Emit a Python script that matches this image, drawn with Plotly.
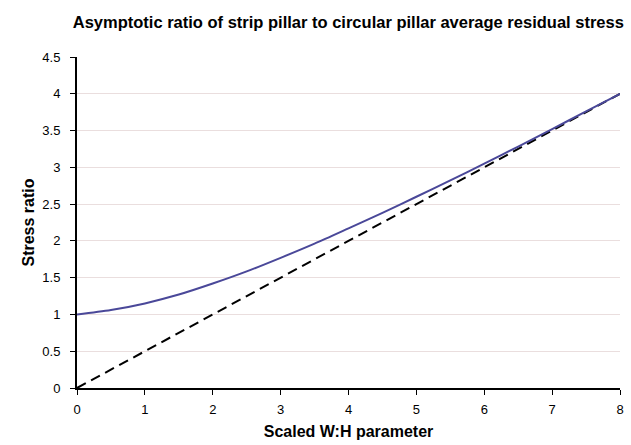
import plotly.graph_objects as go

x_vals = [0, 0.5, 1, 1.5, 2, 2.5, 3, 3.5, 4, 4.5, 5, 5.5, 6, 6.5, 7, 7.5, 8]
ratio_vals = [1.0, 1.06, 1.15, 1.27, 1.42, 1.585, 1.77, 1.963, 2.17, 2.38, 2.60, 2.822, 3.05, 3.283, 3.52, 3.76, 4.0]
asym_x = [0, 8]
asym_y = [0, 4]
x_ticks = [0, 1, 2, 3, 4, 5, 6, 7, 8]
y_ticks = [0, 0.5, 1, 1.5, 2, 2.5, 3, 3.5, 4, 4.5]
y_tick_text = ["0", "0.5", "1", "1.5", "2", "2.5", "3", "3.5", "4", "4.5"]

fig = go.Figure()
fig.add_trace(go.Scatter(x=asym_x, y=asym_y, mode="lines",
                         line=dict(color="black", width=2, dash="10px,6px"),
                         showlegend=False, hoverinfo="skip"))
fig.add_trace(go.Scatter(x=x_vals, y=ratio_vals, mode="lines",
                         line=dict(color="#4a4899", width=2, shape="spline", smoothing=0.8),
                         showlegend=False))

font = "Liberation Sans, Arial, sans-serif"
fig.update_layout(
    width=631, height=445,
    margin=dict(l=77, r=7, t=57, b=57),
    paper_bgcolor="white", plot_bgcolor="white",
    font=dict(family=font, size=13, color="black"),
    title=dict(text="<b>Asymptotic ratio of strip pillar to circular pillar average residual stress</b>",
               x=0.552, xanchor="center", y=0.95, yanchor="middle",
               font=dict(family=font, size=16.5, color="black")),
    xaxis=dict(range=[0, 8], tickvals=x_ticks, ticks="outside", ticklen=5,
               tickcolor="black", showline=True, linecolor="black", linewidth=2,
               showgrid=False, zeroline=False, ticklabelstandoff=3,
               title=dict(text="<b>Scaled W:H parameter</b>", standoff=10,
                          font=dict(family=font, size=16))),
    yaxis=dict(range=[0, 4.5], tickvals=y_ticks, ticktext=y_tick_text, ticks="outside",
               ticklen=5, tickcolor="black", showline=True, linecolor="black", linewidth=2,
               showgrid=True, gridcolor="#eadede", gridwidth=1, zeroline=False,
               ticklabelstandoff=7,
               title=dict(text="<b>Stress ratio</b>", standoff=4,
                          font=dict(family=font, size=16))),
)

fig.write_html("out.html")
